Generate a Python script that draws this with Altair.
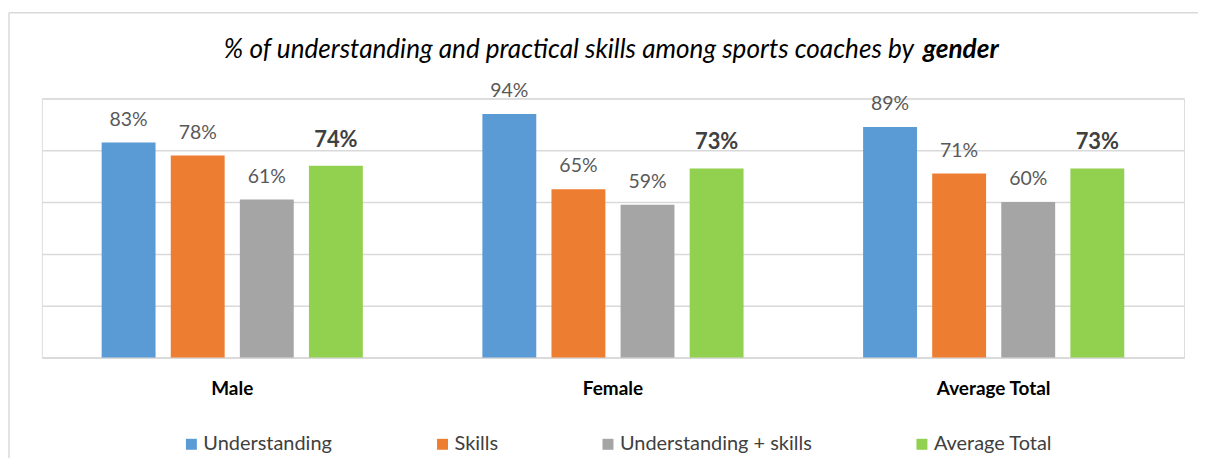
import altair as alt
import pandas as pd

groups = ["Male", "Female", "Average Total"]
series = ["Understanding", "Skills", "Understanding + skills", "Average Total"]
understanding = [83, 94, 89]
skills = [78, 65, 71]
understanding_skills = [61, 59, 60]
average_total = [74, 73, 73]
colors = ["#5B9BD5", "#ED7D31", "#A5A5A5", "#92D050"]
title_main = "% of understanding and practical skills among sports coaches by"
title_bold = "gender"

rows = []
for i, g in enumerate(groups):
    for s, vals in zip(series, [understanding, skills, understanding_skills, average_total]):
        rows.append({"group": g, "series": s, "value": vals[i], "label": f"{vals[i]}%"})
df = pd.DataFrame(rows)

W, H = 1146, 260
FONT = "Lato"

x = alt.X("group:N", sort=groups,
          scale=alt.Scale(paddingInner=0.314, paddingOuter=0.157),
          axis=alt.Axis(title=None, labelAngle=0, labelFont=FONT, labelFontSize=19,
                        labelFontWeight="bold", labelColor="#000000", labelPadding=22,
                        ticks=False, domain=True, domainColor="#D9D9D9", domainWidth=1.5,
                        grid=False, labelLimit=400))
xo = alt.XOffset("series:N", sort=series, scale=alt.Scale(paddingInner=0.22, paddingOuter=0))
y = alt.Y("value:Q", scale=alt.Scale(domain=[0, 100]),
          axis=alt.Axis(title=None, labels=False, ticks=False, domain=False,
                        values=[0, 20, 40, 60, 80, 100], grid=True,
                        gridColor="#D9D9D9", gridWidth=1.5))
color = alt.Color("series:N", sort=series,
                  scale=alt.Scale(domain=series, range=colors),
                  legend=alt.Legend(title=None, orient="none", legendX=140, legendY=337,
                                    direction="horizontal", symbolType="square",
                                    symbolSize=121, symbolStrokeWidth=0,
                                    labelFont=FONT, labelFontSize=20, labelColor="#404040",
                                    labelLimit=400, columnPadding=100, labelOffset=2))

base = alt.Chart(df)
bars = base.mark_bar().encode(x=x, xOffset=xo, y=y, color=color)

labels_normal = base.transform_filter(alt.datum.series != "Average Total").mark_text(
    font=FONT, fontSize=19.5, color="#595959", baseline="alphabetic", dy=-17
).encode(x=x, xOffset=xo, y=y, text="label:N")

labels_bold = base.transform_filter(alt.datum.series == "Average Total").mark_text(
    font=FONT, fontSize=22, fontWeight="bold", color="#404040", baseline="alphabetic", dy=-19
).encode(x=x, xOffset=xo, y=y, text="label:N")

t1 = alt.Chart(pd.DataFrame({"t": [title_main]})).mark_text(
    font=FONT, fontSize=26.2, fontStyle="italic", color="#000000", align="right",
    baseline="alphabetic"
).encode(x=alt.value(875), y=alt.value(-41), text="t:N")

t2 = alt.Chart(pd.DataFrame({"t": [title_bold]})).mark_text(
    font=FONT, fontSize=26.2, fontStyle="italic", fontWeight="bold", color="#000000",
    align="left", baseline="alphabetic"
).encode(x=alt.value(884), y=alt.value(-41), text="t:N")

frame_left = alt.Chart(pd.DataFrame({"a": [0]})).mark_rule(color="#D9D9D9", strokeWidth=1.5).encode(
    x=alt.value(-33), y=alt.value(-86), y2=alt.value(370))
frame_top = alt.Chart(pd.DataFrame({"a": [0]})).mark_rule(color="#D9D9D9", strokeWidth=1.5).encode(
    x=alt.value(-33), x2=alt.value(1170), y=alt.value(-86))

chart = alt.layer(frame_left, frame_top, bars, labels_normal, labels_bold, t1, t2).properties(
    width=W, height=H,
    autosize=alt.AutoSizeParams(type="none"),
    padding={"left": 34, "top": 90, "right": 14, "bottom": 100},
).configure_view(stroke=None).configure(background="#FFFFFF")

chart.save("out.html", embed_options={"renderer": "svg", "actions": False})
